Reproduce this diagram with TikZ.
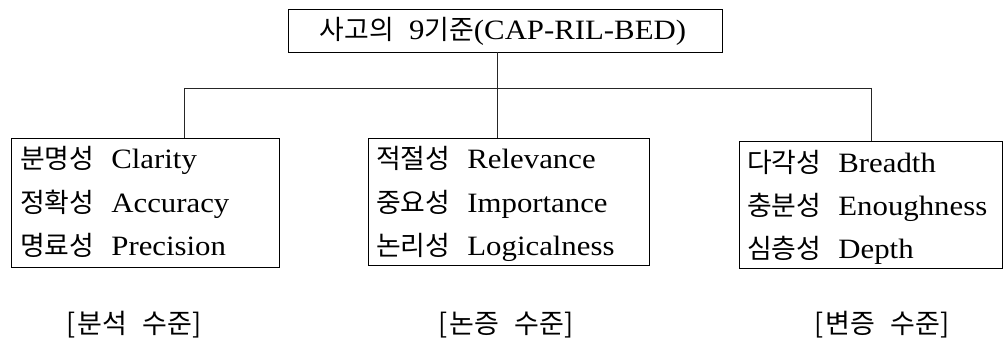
\documentclass[tikz,border=0pt]{standalone}
\usepackage{fontspec}
\setmainfont{Liberation Serif}[FakeStretch=1.1]
\newfontfamily\kr{Noto Sans CJK KR}[Scale=0.96]
\newfontfamily\krb{Noto Sans CJK KR}
\begin{document}
\begin{tikzpicture}[x=1pt,y=-1pt,
  box/.style={draw=black,line width=0.9pt,inner sep=0pt},
  ln/.style={anchor=base west,inner sep=0pt,font=\fontsize{28}{34}\selectfont},
  lvl/.style={anchor=base,inner sep=0pt,font=\krb\fontsize{27}{32}\selectfont},
  conn/.style={draw=black!85,line width=0.9pt}]
\useasboundingbox (0,0) rectangle (1003,339);
% top box
\node[box,minimum width=434pt,minimum height=43pt] (top) at (505,30.5) {};
\node[anchor=base,inner sep=0pt,font=\fontsize{28}{34}\selectfont] (toptxt) at (503,40)
  {{\kr 사고의}\hspace{15pt}9{\kr 기준}(CAP-RIL-BED)};
% level boxes
\node[box,minimum width=268pt,minimum height=129pt] (left) at (145,202.5) {};
\node[box,minimum width=281pt,minimum height=127pt] (mid) at (508.5,201.5) {};
\node[box,minimum width=263pt,minimum height=127pt] (right) at (870.5,204.5) {};
% connector coordinates
\coordinate (jm) at (497,88);
\coordinate (jl) at (184,88);
\coordinate (jr) at (871,88);
\draw[conn] (top.south -| jm) -- (mid.north -| jm);
\draw[conn] (jl) -- (jr);
\draw[conn] (jl) -- (left.north -| jl);
\draw[conn] (jr) -- (right.north -| jr);
% left texts
\node[ln] (l1) at (20,169) {{\kr 분명성}\hspace{17pt}Clarity};
\node[ln] (l2) at (20,212) {{\kr 정확성}\hspace{17pt}Accuracy};
\node[ln] (l3) at (20,255) {{\kr 명료성}\hspace{17pt}Precision};
% middle texts
\node[ln] (m1) at (376,169) {{\kr 적절성}\hspace{17pt}Relevance};
\node[ln] (m2) at (376,212) {{\kr 중요성}\hspace{17pt}Importance};
\node[ln] (m3) at (376,255) {{\kr 논리성}\hspace{17pt}Logicalness};
% right texts
\node[ln] (r1) at (747,172) {{\kr 다각성}\hspace{17pt}Breadth};
\node[ln] (r2) at (747,215) {{\kr 충분성}\hspace{17pt}Enoughness};
\node[ln] (r3) at (747,258) {{\kr 심층성}\hspace{17pt}Depth};
% level labels
\node[lvl] (lv1) at (134,333) {[\hspace{2pt}분석\hspace{16pt}수준]};
\node[lvl] (lv2) at (506,333) {[\hspace{2pt}논증\hspace{16pt}수준]};
\node[lvl] (lv3) at (882,333) {[\hspace{2pt}변증\hspace{16pt}수준]};
\end{tikzpicture}
\end{document}
